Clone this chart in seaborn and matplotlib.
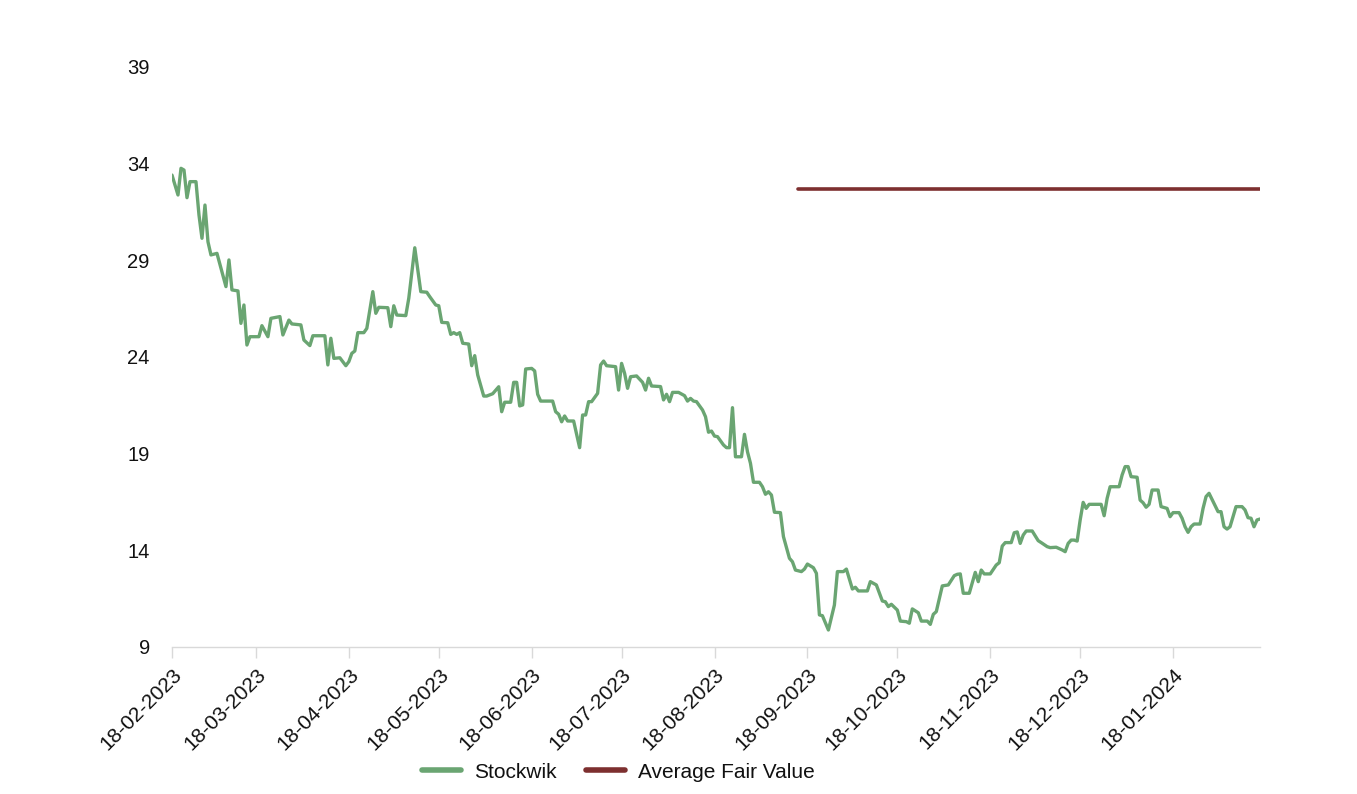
import pandas as pd
import matplotlib
matplotlib.use("Agg")
import matplotlib.pyplot as plt
import matplotlib.dates as mdates
import seaborn as sns

# Share price, given as calendar days since the first observation
start_date = "2023-02-18"
days = [
    0, 2, 3, 4, 5, 6, 8, 9, 10, 11, 12, 13, 15, 18, 19, 20, 22, 23, 24, 25,
    26, 29, 30, 32, 33, 36, 37, 39, 40, 43, 44, 46, 47, 51, 52, 53, 54, 56, 58, 59,
    60, 61, 62, 64, 65, 67, 68, 69, 72, 73, 74, 75, 78, 79, 81, 83, 85, 86, 88, 89,
    90, 92, 93, 94, 95, 96, 97, 99, 100, 101, 102, 104, 105, 107, 109, 110, 111, 113, 114, 115,
    116, 117, 118, 120,
    121, 122, 123, 127, 128, 129, 130, 131, 132, 134, 136, 137, 138, 139, 140, 142, 143, 144, 145, 148,
    149, 150, 151, 152, 153, 155, 157, 158, 159, 160, 163, 164, 165, 166, 167, 169, 171, 172, 173, 174,
    175, 177, 178, 179,
    180, 181, 182, 184, 185, 186, 187, 188, 190, 191, 192, 193, 194, 196, 197, 198, 199, 200, 201, 203,
    204, 206, 207, 208, 210, 211, 212, 214, 215, 216, 217, 219, 221, 222, 224, 225, 227, 228, 229, 232,
    233, 235, 237, 238, 239, 240, 242,
    243, 245, 246, 247, 249, 250, 252, 253, 254, 255, 257, 259, 261, 262, 263, 264, 266, 268, 269, 270,
    271, 273, 275, 276, 277, 278, 280, 281, 282, 283, 284, 285, 287, 289, 290, 292, 293, 295, 297, 298,
    299, 300, 301,
    302, 303, 304, 305, 306, 310, 311, 312, 313, 316, 317, 318, 319, 320, 322, 323, 324, 325, 326, 327,
    329, 330, 332, 333, 334, 336, 337, 338, 339, 340, 341, 343, 344, 345, 346, 349, 350, 351, 352, 353,
    355, 357, 358, 359, 360, 361, 362, 363,
]
price = [
    33.41, 32.38, 33.76, 33.67, 32.24, 33.07, 33.07, 31.35, 30.14, 31.86, 29.96, 29.28, 29.36, 27.64, 29.02, 27.47, 27.42, 25.74, 26.69, 24.62,
    25.05, 25.05, 25.62, 25.05, 26.00, 26.09, 25.14, 25.91, 25.71, 25.66, 24.88, 24.59, 25.10, 25.10, 23.59, 24.97, 23.93, 23.96, 23.55, 23.76,
    24.19, 24.31, 25.26, 25.26, 25.48, 27.38, 26.26, 26.57, 26.55, 25.57, 26.65, 26.17, 26.14, 27.04, 29.65, 27.38, 27.35, 27.12, 26.69, 26.65,
    25.79, 25.77, 25.17, 25.26, 25.17, 25.26, 24.71, 24.67, 23.55, 24.07, 23.07, 21.98, 21.98, 22.10, 22.46, 21.17, 21.66, 21.66, 22.69, 22.69,
    21.47, 21.52, 23.38, 23.41,
    23.28, 22.07, 21.72, 21.72, 21.17, 21.04, 20.65, 20.95, 20.69, 20.69, 19.31, 21.00, 21.00, 21.69, 21.69, 22.12, 23.59, 23.79, 23.55, 23.50,
    22.29, 23.67, 23.16, 22.38, 22.98, 23.02, 22.69, 22.29, 22.90, 22.50, 22.47, 21.78, 22.07, 21.69, 22.17, 22.17, 22.00, 21.72, 21.86, 21.72,
    21.69, 21.26, 20.91, 20.11,
    20.17, 19.91, 19.88, 19.45, 19.31, 19.31, 21.38, 18.84, 18.84, 20.00, 19.10, 18.50, 17.52, 17.52, 17.29, 16.90, 17.03, 16.86, 15.97, 15.95,
    14.71, 13.59, 13.41, 12.98, 12.90, 13.03, 13.29, 13.10, 12.81, 10.66, 10.62, 9.88, 11.17, 12.90, 12.90, 13.03, 12.00, 12.09, 11.90, 11.90,
    12.38, 12.21, 11.38, 11.34, 11.09, 11.21, 10.91,
    10.34, 10.31, 10.23, 10.97, 10.77, 10.34, 10.34, 10.17, 10.69, 10.83, 12.16, 12.21, 12.69, 12.76, 12.78, 11.78, 11.78, 12.86, 12.38, 12.98,
    12.78, 12.78, 13.24, 13.36, 14.22, 14.40, 14.40, 14.91, 14.95, 14.36, 14.79, 15.00, 15.00, 14.50, 14.40, 14.19, 14.14, 14.16, 14.02, 13.93,
    14.36, 14.53, 14.53,
    14.48, 15.57, 16.48, 16.17, 16.38, 16.38, 15.79, 16.69, 17.29, 17.29, 17.90, 18.33, 18.33, 17.81, 17.78, 16.60, 16.46, 16.23, 16.38, 17.12,
    17.12, 16.26, 16.17, 15.74, 15.95, 15.95, 15.66, 15.22, 14.93, 15.22, 15.36, 15.36, 16.17, 16.78, 16.95, 16.00, 16.00, 15.22, 15.10, 15.22,
    16.26, 16.26, 16.09, 15.69, 15.66, 15.22, 15.57, 15.62,
]

# Average fair value estimate
fair_value_dates = ["2023-09-15", "2024-02-16"]
fair_value = [32.68, 32.68]

y_ticks = [9, 14, 19, 24, 29, 34, 39]

GREEN = "#6aa572"
DARK_RED = "#7d2f2f"

sns.set_theme(style="white")
plt.rcParams["font.family"] = ["Liberation Sans", "DejaVu Sans"]
plt.rcParams["text.color"] = "#111111"
plt.rcParams["xtick.color"] = "#111111"
plt.rcParams["ytick.color"] = "#111111"

dates = pd.Timestamp(start_date) + pd.to_timedelta(days, unit="D")
stock = pd.DataFrame({"date": dates, "value": price})
fair = pd.DataFrame({"date": pd.to_datetime(fair_value_dates), "value": fair_value})

W, H = 1357, 794
fig = plt.figure(figsize=(W / 100, H / 100), dpi=100)
ax = fig.add_axes([172 / W, 147 / H, 1088 / W, 580 / H])

sns.lineplot(data=stock, x="date", y="value", ax=ax, color=GREEN, linewidth=2.4,
             estimator=None, sort=False, label="Stockwik")
sns.lineplot(data=fair, x="date", y="value", ax=ax, color=DARK_RED, linewidth=2.6,
             estimator=None, sort=False, label="Average Fair Value")

ax.set_xlim(dates[0], dates[-1])
ax.set_ylim(9, 39)
ax.set_yticks(y_ticks)
ax.xaxis.set_major_locator(mdates.MonthLocator(bymonthday=18))
ax.xaxis.set_major_formatter(mdates.DateFormatter("%d-%m-%Y"))

for side in ["top", "right", "left"]:
    ax.spines[side].set_visible(False)
ax.spines["bottom"].set_color("#d9d9d9")
ax.spines["bottom"].set_linewidth(1.0)

ax.tick_params(axis="x", bottom=True, length=8, width=1, color="#d9d9d9",
               labelsize=15, pad=5)
ax.tick_params(axis="y", left=False, length=0, labelsize=14.5, pad=16)
plt.setp(ax.get_xticklabels(), rotation=45, ha="right", rotation_mode="anchor")
ax.set_xlabel("")
ax.set_ylabel("")
ax.grid(False)

leg = ax.legend(loc="center", bbox_to_anchor=(618 / W, 22 / H), bbox_transform=fig.transFigure,
                ncol=2, frameon=False, fontsize=15, handlelength=1.9,
                handletextpad=0.6, columnspacing=1.4)
for handle in leg.get_lines():
    handle.set_linewidth(4)

fig.savefig("out.png", dpi=100, facecolor="white")
